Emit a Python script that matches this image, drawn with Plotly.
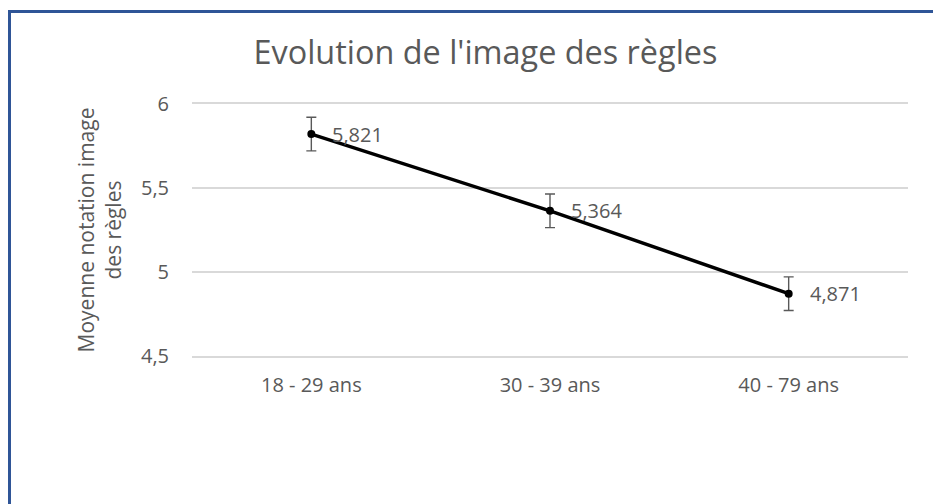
import plotly.graph_objects as go

categories = ["18 - 29 ans", "30 - 39 ans", "40 - 79 ans"]
means = [5.821, 5.364, 4.871]
errors = [0.1, 0.1, 0.1]
y_ticks = [4.5, 5, 5.5, 6]

# page body has an 8px margin: the figure is drawn from (8, 8)
OFF = 8
W, H = 941 - OFF, 504 - OFF
ML, MT = 192 - OFF, 104 - OFF
MR = W - (908 - OFF)
MB = H - (356 - OFF)
pw, ph = W - ML - MR, H - MT - MB

FONT = "Open Sans"
GREY = "#595959"

labels = [f"{v:.3f}".replace(".", ",") for v in means]

fig = go.Figure()
fig.add_trace(go.Scatter(
    x=categories, y=means,
    mode="lines+markers",
    line=dict(color="black", width=3.5),
    marker=dict(color="black", size=8),
    error_y=dict(type="data", array=errors, visible=True,
                 color=GREY, thickness=1.4, width=5),
    hoverinfo="skip",
    showlegend=False,
))

for c, v, t in zip(categories, means, labels):
    fig.add_annotation(x=c, y=v, text=t, showarrow=False,
                       xanchor="left", yanchor="middle", xshift=19,
                       font=dict(family=FONT, size=20, color=GREY))

# outer chart border (Excel chart frame)
bx = (9.5 - OFF - ML) / pw
by = (H - MB - (11.5 - OFF)) / ph
fig.add_shape(type="rect", xref="paper", yref="paper",
              x0=bx, y0=-1.0, x1=1.5, y1=by,
              line=dict(color="#2F5597", width=3), layer="above")

fig.update_layout(
    width=W, height=H,
    margin=dict(l=ML, r=MR, t=MT, b=MB, autoexpand=False),
    paper_bgcolor="white", plot_bgcolor="white",
    separators=", ",
    font=dict(family=FONT, color=GREY),
    title=dict(text="Evolution de l'image des règles",
               x=(485.5 - OFF) / W, xref="container", xanchor="center",
               y=1 - (52.5 - OFF) / H, yref="container", yanchor="middle",
               font=dict(family=FONT, size=32.4, color=GREY)),
    xaxis=dict(range=[-0.5, 2.5], showgrid=False, zeroline=False,
               showline=True, mirror=True, linecolor="#d9d9d9",
               linewidth=1.5, ticks="",
               ticklabelstandoff=10,
               tickfont=dict(family=FONT, size=20, color=GREY)),
    yaxis=dict(range=[4.5, 6], tickvals=y_ticks, showgrid=True,
               gridcolor="#d9d9d9", gridwidth=1.5, zeroline=False,
               showline=False, ticks="", ticklabelstandoff=22,
               tickfont=dict(family=FONT, size=20, color=GREY),
               title=dict(text="Moyenne notation image<br>des règles",
                          standoff=13,
                          font=dict(family=FONT, size=21, color=GREY))),
)

fig.write_html("out.html")
